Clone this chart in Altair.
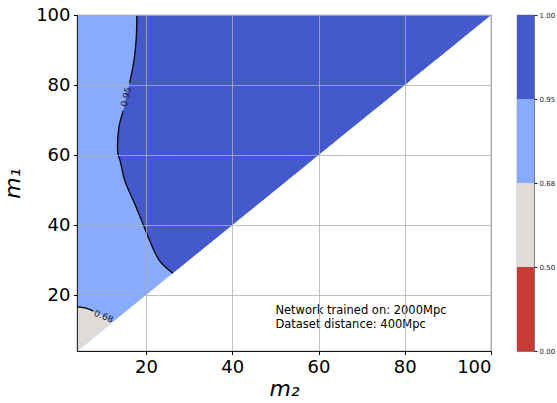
import altair as alt
import pandas as pd

# 0.95 probability contour, listed from the diagonal up to the top edge
C95_M1 = [26.2, 29.7, 33.4, 40.3, 46.0, 52.6, 58.3, 60.3, 67.7, 72.6, 76.6, 80.6, 86.9, 92.6, 100.0]
C95_M2 = [26.2, 23.2, 21.6, 19.3, 17.4, 15.1, 14.0, 13.5, 13.7, 14.7, 15.4, 16.2, 17.2, 17.7, 17.9]

# 0.68 probability contour, from the diagonal to the left edge
C68_M1 = [12.1, 13.7, 15.4, 16.2, 16.6]
C68_M2 = [12.1, 10.5, 7.8, 6.25, 4.0]

# colour bar levels and colours
BOUNDS = [0.0, 0.5, 0.68, 0.95, 1.0]
BAND_COLORS = ["#c83b34", "#dfdbd9", "#88abfd", "#4459cc"]

M_MIN, M_MAX = 4.0, 100.0
TICKS = [20, 40, 60, 80, 100]
NOTE = ["Network trained on: 2000Mpc", "Dataset distance: 400Mpc"]

FONT = "DejaVu Sans"

xs = alt.Scale(domain=[M_MIN, M_MAX], nice=False, zero=False)
ys = alt.Scale(domain=[M_MIN, M_MAX], nice=False, zero=False)

common_axis = dict(
    values=TICKS, labelFontSize=18, labelFont=FONT, labelColor="black",
    tickSize=3.5, tickColor="black", labelPadding=3.5,
    grid=True, gridColor="#b0b0b0", gridWidth=0.8,
    domainColor="black", domainWidth=0.8,
    titleFont=FONT, titleFontSize=22, titleFontStyle="italic",
    titleFontWeight="normal", titleColor="black", zindex=1,
)
x_axis = alt.Axis(title="m₂", titlePadding=2, **common_axis)
y_axis = alt.Axis(title="m₁", titlePadding=11, **common_axis)

# region with m1 >= m2 (everything above the diagonal)
tri = pd.DataFrame({"m2": [M_MIN, M_MAX], "m1": [M_MIN, M_MAX], "top": [M_MAX, M_MAX]})
tri_layer = alt.Chart(tri).mark_area(color=BAND_COLORS[2], opacity=1).encode(
    x=alt.X("m2:Q", scale=xs, axis=x_axis),
    y=alt.Y("m1:Q", scale=ys, axis=y_axis),
    y2="top:Q",
)

# region above 0.95: right of the contour, up to the diagonal
hi = pd.DataFrame({"m1": C95_M1, "m2": C95_M2, "diag": C95_M1})
hi_layer = alt.Chart(hi).mark_area(
    orient="horizontal", color=BAND_COLORS[3], opacity=1, interpolate="catmull-rom"
).encode(
    y=alt.Y("m1:Q", scale=ys),
    x=alt.X("m2:Q", scale=xs),
    x2="diag:Q",
)

# region below 0.68: lower-left corner between the left edge and the contour/diagonal
lo = pd.DataFrame({"m1": [M_MIN] + C68_M1, "edge": M_MIN, "m2": [M_MIN] + C68_M2})
lo_layer = alt.Chart(lo).mark_area(orient="horizontal", color=BAND_COLORS[1], opacity=1).encode(
    y=alt.Y("m1:Q", scale=ys),
    x=alt.X("edge:Q", scale=xs),
    x2="m2:Q",
)

# contour lines, broken where the inline labels sit
rows = []
for k, (a, b) in enumerate(zip(C95_M1, C95_M2)):
    if a <= 72.6:
        rows.append({"seg": "95a", "k": k, "m1": a, "m2": b})
    elif a >= 80.6:
        rows.append({"seg": "95b", "k": k, "m1": a, "m2": b})
for k, (a, b) in enumerate(zip(C68_M1, C68_M2)):
    if b <= 7.8:
        rows.append({"seg": "68", "k": k, "m1": a, "m2": b})
lines = pd.DataFrame(rows)
line_layer = alt.Chart(lines).mark_line(
    color="black", strokeWidth=1.3, interpolate="catmull-rom"
).encode(
    x=alt.X("m2:Q", scale=xs),
    y=alt.Y("m1:Q", scale=ys),
    detail="seg:N",
    order="k:Q",
)

labels = pd.DataFrame({
    "m2": [C95_M2[10], 10.2],
    "m1": [C95_M1[10], 13.9],
    "txt": ["0.95", "0.68"],
    "ang": [283, 22],
})
label_layer = alt.Chart(labels).mark_text(
    font=FONT, fontSize=9, color="#1a1a2e", align="center", baseline="middle"
).encode(
    x=alt.X("m2:Q", scale=xs),
    y=alt.Y("m1:Q", scale=ys),
    text="txt:N",
    angle=alt.Angle("ang:Q", scale=None),
)

note = pd.DataFrame({"m2": [50.0], "m1": [10.0], "txt": ["\n".join(NOTE)]})
note_layer = alt.Chart(note).mark_text(
    font=FONT, fontSize=11.5, color="black", align="left", baseline="bottom",
    lineBreak="\n", lineHeight=13.6, dy=-13.6,
).encode(
    x=alt.X("m2:Q", scale=xs),
    y=alt.Y("m1:Q", scale=ys),
    text="txt:N",
)

main = alt.layer(
    tri_layer, hi_layer, lo_layer, line_layer, label_layer, note_layer
).properties(width=414, height=336)

# colour bar with evenly spaced bands
bar = pd.DataFrame({
    "lo": list(range(len(BAND_COLORS))),
    "hi": [i + 1 for i in range(len(BAND_COLORS))],
    "band": [f"{BOUNDS[i]:.2f}" for i in range(len(BAND_COLORS))],
})
label_list = "[" + ",".join(f"'{b:.2f}'" for b in BOUNDS) + "]"
cbar = alt.Chart(bar).mark_rect().encode(
    y=alt.Y(
        "lo:Q",
        scale=alt.Scale(domain=[0, len(BAND_COLORS)], nice=False, zero=False),
        axis=alt.Axis(
            orient="right", values=list(range(len(BOUNDS))), title=None,
            labelExpr=f"{label_list}[datum.value]", labelFontSize=7, labelFont=FONT,
            labelColor="#222", tickSize=3, tickColor="#222", labelPadding=2,
            grid=False, domain=False,
        ),
    ),
    y2="hi:Q",
    color=alt.Color(
        "band:N",
        scale=alt.Scale(domain=list(bar["band"]), range=BAND_COLORS),
        legend=None,
    ),
).properties(width=17, height=336)

chart = alt.hconcat(main, cbar, spacing=26).properties(
    bounds="flush",
    padding={"left": 1, "top": 5, "right": 2, "bottom": 2},
    background="white",
).configure_view(stroke="#333", strokeWidth=0.8)

chart.save("out.html", embed_options={"renderer": "svg", "actions": False})
